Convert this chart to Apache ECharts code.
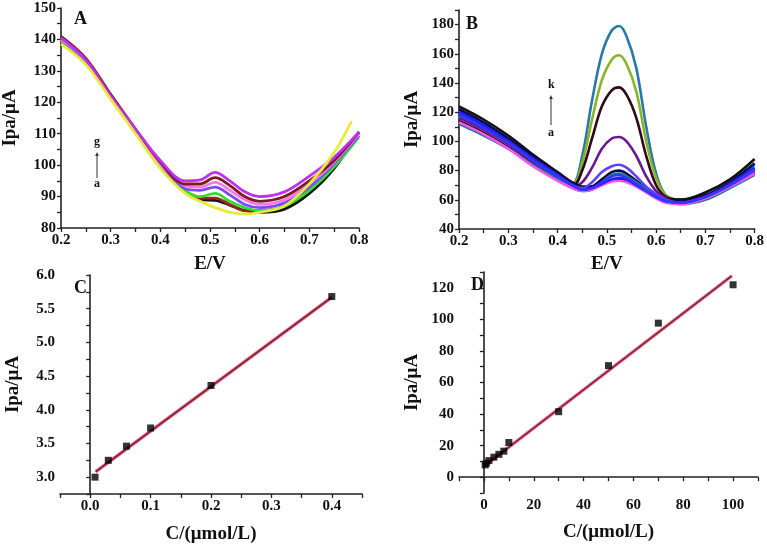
<!DOCTYPE html>
<html><head><meta charset="utf-8">
<script src="https://cdn.jsdelivr.net/npm/echarts/dist/echarts.min.js"></script>
<style>html,body{margin:0;padding:0;background:#fff}#c{width:767px;height:546px}</style>
</head><body><div id="c"></div>
<script>
// ---------- Panel A data ----------
const xA = [0.2,0.25,0.3,0.35,0.4,0.45,0.48,0.51,0.54,0.57,0.6,0.65,0.7,0.75,0.8];
const A_a = [140,133.5,121.5,110.5,99.5,91.5,89,88.8,87.3,85.5,85,86,91,99,110.5];
const A_b = [140,133.5,121.5,110.5,99.5,91.5,89.5,89.5,87.5,85.5,85.5,87,92,100,110.5];
const A_c = [139.5,133,121.5,110.5,99.5,92,90,91,88.5,86.5,85.5,87,92,99.5,109];
const A_d = [140,133,121.5,110.5,100,92.5,92,93,90.5,87.5,86.5,88,93,100.5,109.5];
const A_e = [140,133.5,122,111,100.5,93.5,93,94.5,92,89,87.5,89,94,101,110];
const A_f = [141,134,122.5,111.5,101,94,94,96,93.5,90,88.5,90,95,101.5,110.5];
const A_g = [140.5,133.5,122,111.5,101.5,95,95.3,97.7,95,91.5,90,91.5,96.5,102.5,110.5];
const xAy = [0.2,0.25,0.3,0.35,0.4,0.45,0.48,0.51,0.54,0.57,0.6,0.65,0.7,0.75,0.785];
const A_y = [138.5,132,121,110,99,91,88.5,86.5,85,84.5,85,87,94,104,114];

// ---------- Panel B data ----------
const xB = [0.2,0.25,0.3,0.35,0.4,0.43,0.45,0.47,0.49,0.51,0.525,0.54,0.56,0.58,0.6,0.62,0.65,0.7,0.75,0.8];
const B_a = [113,105,95,83,73,68,66,67,70,72.5,73,72,69,65,61,58,57,61,69,78];
const B_b = [124,115,104,91,79,72,69,69,71,73.5,74,73,70,66,62,60,60,65,74,88];
const B_c = [120,111,100,88,77,70,67,68,71,74,75,74,70,66,62,59,58,62,71,82];
const B_d = [118,109,99,87,76,70,67,68,72,76,77,75,71,66,62,59,58,62,70,81];
const B_e = [112,104,95,84,74,68,66,67,72,77,78,76,72,67,62,59,57,60,68,77];
const B_f = [122,113,102,90,78,71,68,69,74,79,80,78,73,68,63,60,59,63,72,85];
const B_g = [119,110,100,88,77,70,68,72,79,83,84,82,76,69,64,60,58,62,70,80];
const B_h = [116,108,98,86,76,69,72,82,95,102,103,100,90,76,66,61,59,62,70,79];
const B_i = [114,106,96,85,75,69,80,102,124,135,137,132,116,90,70,62,60,63,70,78];
const B_j = [117,109,99,87,76,70,85,115,142,156,159,153,134,100,75,63,60,63,71,81];
const B_k = [121,112,101,89,77,71,90,128,160,176,179,172,150,110,78,63,60,63,72,84];

// ---------- Panel C data ----------
const cX = [0.008,0.03,0.06,0.1,0.2,0.4];
const cY = [3.0,3.25,3.46,3.73,4.36,5.68];
const cFitX = [0.009,0.4];
const cFitY = [3.08,5.67];

// ---------- Panel D data ----------
const dX = [0.5,1,2,4,6,8,10,30,50,70,100];
const dY = [7.8,8.8,10.5,12.7,14.5,16.5,22,41.5,70.7,97.6,121.9];
const dFitX = [0.1,99.5];
const dFitY = [7.0,127.6];

const zip = (xs, ys) => xs.map((x, i) => [x, ys[i]]);
const FONT = '"Liberation Serif","Times New Roman",serif';

function fmtFactory(step, dec) {
  return v => {
    const r = v / step;
    if (Math.abs(r - Math.round(r)) > 1e-6) return '';
    if (Math.abs(v) < 1e-9) v = 0;
    return v.toFixed(dec);
  };
}
function axis(gi, type, min, max, interval, labStep, dec, name, gap) {
  return {
    type: 'value', gridIndex: gi, min, max, interval,
    name, nameLocation: 'middle', nameGap: gap,
    nameTextStyle: { fontFamily: FONT, fontWeight: 'bold', fontSize: 19, color: '#111' },
    axisLine: { show: true, lineStyle: { color: '#222', width: 1.6 } },
    axisTick: { show: true, inside: false, length: 4, lineStyle: { color: '#222', width: 1.3 } },
    minorTick: { show: false },
    splitLine: { show: false },
    axisLabel: { fontFamily: FONT, fontWeight: 'bold', fontSize: 15, color: '#111', margin: 5,
                 formatter: fmtFactory(labStep, dec), showMinLabel: true, showMaxLabel: true }
  };
}

const chart = echarts.init(document.getElementById('c'), null, { renderer: 'canvas' });

function ln(xi, yi, data, color, w) {
  return { type: 'line', xAxisIndex: xi, yAxisIndex: yi, data, smooth: 0.35, symbol: 'none',
           lineStyle: { color, width: w }, silent: true, animation: false, z: 3 };
}

const series = [
  ln(0,0,zip(xA,A_a),'#141414',2.8),
  ln(0,0,zip(xA,A_b),'#9a2424',2.8),
  ln(0,0,zip(xA,A_c),'#2ee02e',2.8),
  ln(0,0,zip(xA,A_d),'#7a4cff',2.8),
  ln(0,0,zip(xA,A_e),'#ff78e0',2.8),
  ln(0,0,zip(xA,A_f),'#7a1a2a',2.8),
  ln(0,0,zip(xA,A_g),'#c030f0',2.8),
  ln(0,0,zip(xAy,A_y),'#e6ea3c',2.8),

  ln(1,1,zip(xB,B_k),'#2878a8',2.6),
  ln(1,1,zip(xB,B_j),'#8ab428',2.6),
  ln(1,1,zip(xB,B_i),'#300818',2.6),
  ln(1,1,zip(xB,B_h),'#6a1a90',2.6),
  ln(1,1,zip(xB,B_b),'#111111',2.6),
  ln(1,1,zip(xB,B_f),'#0a0a50',2.6),
  ln(1,1,zip(xB,B_e),'#1a8080',2.6),
  ln(1,1,zip(xB,B_a),'#ff50ff',2.6),
  ln(1,1,zip(xB,B_g),'#6040ff',2.6),
  ln(1,1,zip(xB,B_c),'#2020ff',2.6),
  ln(1,1,zip(xB,B_d),'#3535ff',2.6),

  { type:'line', xAxisIndex:2, yAxisIndex:2, data: zip(cFitX,cFitY), symbol:'none',
    lineStyle:{ color:'#e8849c', width:3.5 }, animation:false, z:2 },
  { type:'line', xAxisIndex:2, yAxisIndex:2, data: zip(cFitX,cFitY), symbol:'none',
    lineStyle:{ color:'#8a1c34', width:1.6 }, animation:false, z:3 },
  { type:'scatter', xAxisIndex:2, yAxisIndex:2, data: zip(cX,cY), symbol:'rect', symbolSize:7,
    itemStyle:{ color:'#000' }, animation:false, z:4 },

  { type:'line', xAxisIndex:3, yAxisIndex:3, data: zip(dFitX,dFitY), symbol:'none',
    lineStyle:{ color:'#e8849c', width:3.5 }, animation:false, z:2 },
  { type:'line', xAxisIndex:3, yAxisIndex:3, data: zip(dFitX,dFitY), symbol:'none',
    lineStyle:{ color:'#8a1c34', width:1.6 }, animation:false, z:3 },
  { type:'scatter', xAxisIndex:3, yAxisIndex:3, data: zip(dX,dY), symbol:'rect', symbolSize:7,
    itemStyle:{ color:'#000' }, animation:false, z:4 }
];

const txt = (x, y, s, size) => ({ type:'text', left:x, top:y, z:10,
  style:{ text:s, fontFamily:FONT, fontWeight:'bold', fontSize:size, fill:'#111' } });
function arrow(x, yTop, yBot) {
  return [
    { type:'line', z:10, shape:{ x1:x, y1:yTop+3, x2:x, y2:yBot }, style:{ stroke:'#333', lineWidth:1 } },
    { type:'polygon', z:10, shape:{ points:[[x-1.8,yTop+4],[x+1.8,yTop+4],[x,yTop]] }, style:{ fill:'#333' } }
  ];
}

chart.setOption({
  backgroundColor: '#fff',
  animation: false,
  grid: [
    { left: 60, top: 8, width: 299, height: 220 },
    { left: 459, top: 10, width: 298, height: 219 },
    { left: 60, top: 275, width: 302, height: 219 },
    { left: 459, top: 272, width: 299, height: 221 }
  ],
  xAxis: [
    axis(0,'x',0.2,0.8,0.05,0.1,1,'E/V',27),
    axis(1,'x',0.2,0.8,0.05,0.1,1,'E/V',26),
    axis(2,'x',-0.05,0.45,0.05,0.1,1,'C/(μmol/L)',31),
    axis(3,'x',-10,110,10,20,0,'C/(μmol/L)',30)
  ],
  yAxis: [
    axis(0,'y',80,150,5,10,0,'Ipa/μA',41),
    axis(1,'y',40,190,10,20,0,'Ipa/μA',37),
    axis(2,'y',2.75,6.0,0.25,0.5,1,'Ipa/μA',37),
    axis(3,'y',-10,130,10,20,0,'Ipa/μA',37)
  ],
  series,
  graphic: [
    txt(74, 10, 'A', 18), txt(466, 15, 'B', 18), txt(74, 279, 'C', 18), txt(471, 276, 'D', 18),
    txt(94, 136, 'g', 12), ...arrow(97, 152, 178), txt(94, 178, 'a', 12),
    txt(548, 79, 'k', 12), ...arrow(551, 95, 125), txt(548, 127, 'a', 12)
  ]
});
</script></body></html>
